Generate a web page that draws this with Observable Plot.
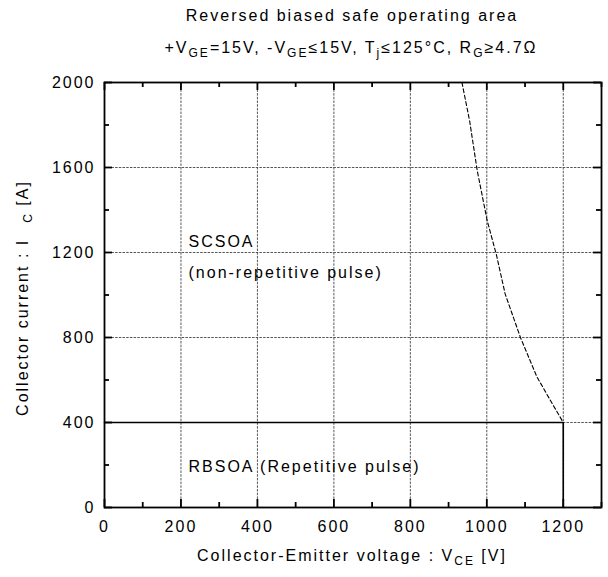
<!DOCTYPE html>
<html><head><meta charset="utf-8">
<script src="https://cdn.jsdelivr.net/npm/d3@7"></script>
<script src="https://cdn.jsdelivr.net/npm/@observablehq/plot@0.6"></script>
<style>body{margin:0;background:#fff}</style>
</head><body><div id="chart"></div>
<script>
// ---- data ----
const xTickValues = [0, 200, 400, 600, 800, 1000, 1200];
const xMinorTicks = [100, 300, 500, 700, 900, 1100, 1300];
const yTickValues = [0, 400, 800, 1200, 1600, 2000];
const yMinorTicks = [200, 600, 1000, 1400, 1800];
const gridX = [200, 400, 600, 800, 1000, 1200];
const gridY = [400, 800, 1200, 1600];

// SCSOA boundary (non-repetitive pulse), dashed
const scsoaV = [935, 955, 975, 1001, 1025, 1048, 1088, 1131, 1166, 1200];
const scsoaI = [2000, 1820, 1585, 1350, 1190, 1005, 800, 615, 505, 400];
// RBSOA boundary (repetitive pulse), solid
const rbsoaV = [0, 1200, 1200];
const rbsoaI = [400, 400, 0];

const labelsText = ["SCSOA", "(non-repetitive pulse)", "RBSOA (Repetitive pulse)"];
const labelsV = [0, 0, 0];
const labelsI = [1252, 1106, 193];

const scsoa = scsoaV.map((v, i) => ({v, i: scsoaI[i]}));
const rbsoa = rbsoaV.map((v, i) => ({v, i: rbsoaI[i]}));
const labels = labelsText.map((t, k) => ({t, v: labelsV[k], i: labelsI[k]}));

// layout
const W = 608, H = 577, mL = 104, mR = 7, mT = 82, mB = 70;
const xDomain = [0, 1300], yDomain = [0, 2000];
const vPerPx = (xDomain[1] - xDomain[0]) / (W - mL - mR);
const iPerPx = (yDomain[1] - yDomain[0]) / (H - mT - mB);

const gridStyle = {stroke: "#444", strokeWidth: 0.9, strokeDasharray: "2.5,1.2"};
const tickStyle = {stroke: "#000", strokeWidth: 1.8};
function mkTicks(values, side, len) {
  if (side === "bottom") return Plot.ruleX(values, {x: d => d, y1: yDomain[0], y2: yDomain[0] + len * iPerPx, ...tickStyle});
  if (side === "top") return Plot.ruleX(values, {x: d => d, y1: yDomain[1], y2: yDomain[1] - len * iPerPx, ...tickStyle});
  if (side === "left") return Plot.ruleY(values, {y: d => d, x1: xDomain[0], x2: xDomain[0] + len * vPerPx, ...tickStyle});
  return Plot.ruleY(values, {y: d => d, x1: xDomain[1], x2: xDomain[1] - len * vPerPx, ...tickStyle});
}
const fmt = d => String(d);

const plot = Plot.plot({
  width: W,
  height: H,
  marginLeft: mL,
  marginRight: mR,
  marginTop: mT,
  marginBottom: mB,
  style: {fontFamily: "'Liberation Sans', Arial, sans-serif", fontSize: "16px", letterSpacing: "2px", color: "#000", background: "#fff"},
  x: {domain: xDomain},
  y: {domain: yDomain},
  marks: [
    Plot.ruleX(gridX, {...gridStyle}),
    Plot.ruleY(gridY, {...gridStyle}),
    Plot.line(scsoa, {x: "v", y: "i", stroke: "#000", strokeWidth: 1.1, strokeDasharray: "4,2.5"}),
    Plot.line(rbsoa, {x: "v", y: "i", stroke: "#000", strokeWidth: 1.6}),
    Plot.text(labels, {x: "v", y: "i", text: "t", textAnchor: "start", dx: 84, fontSize: 16}),
    // inward ticks
    mkTicks(xTickValues, "bottom", 8),
    mkTicks(xMinorTicks, "bottom", 5),
    mkTicks(xTickValues, "top", 8),
    mkTicks(xMinorTicks, "top", 5),
    mkTicks(yTickValues, "left", 8),
    mkTicks(yMinorTicks, "left", 5),
    mkTicks(yTickValues, "right", 8),
    mkTicks(yMinorTicks, "right", 5),
    // tick labels
    Plot.axisX(xTickValues, {anchor: "bottom", tickSize: 0, tickPadding: 13, label: null, fontSize: 16, tickFormat: fmt}),
    Plot.axisY(yTickValues, {anchor: "left", tickSize: 0, tickPadding: 9, label: null, fontSize: 16, tickFormat: fmt}),
    Plot.frame({stroke: "#000", strokeWidth: 1.8})
  ]
});

const svg = d3.select(plot);
const font = "'Liberation Sans', Arial, sans-serif";
function addText(x, y, parts, rotate) {
  const t = svg.append("text")
    .attr("text-anchor", "middle")
    .attr("font-family", font)
    .attr("font-size", 16)
    .attr("letter-spacing", "2px")
    .attr("fill", "#000");
  if (rotate) t.attr("transform", `translate(${x},${y}) rotate(-90)`);
  else t.attr("x", x).attr("y", y);
  let prevSub = false;
  for (const p of parts) {
    const sub = p.sub || false;
    const ts = t.append("tspan").text(p.t);
    if (sub && !prevSub) ts.attr("dy", 4).attr("font-size", 12);
    else if (sub) ts.attr("font-size", 12);
    if (!sub && prevSub) ts.attr("dy", -4);
    if (p.dx) ts.attr("dx", p.dx);
    prevSub = sub;
  }
  return t;
}
addText(352, 21, [{t: "Reversed biased safe operating area"}]);
addText(351, 53, [
  {t: "+V"}, {t: "GE", sub: true}, {t: "=15V, -V"}, {t: "GE", sub: true},
  {t: "≤15V, T"}, {t: "j", sub: true}, {t: "≤125°C, R"}, {t: "G", sub: true}, {t: "≥4.7Ω"}
]);
addText(352, 561, [{t: "Collector-Emitter voltage : V"}, {t: "CE", sub: true}, {t: " [V]"}]);
addText(28, 298, [{t: "Collector current : I"}, {t: "C", sub: true, dx: 16}, {t: " [A]"}], true);

document.getElementById("chart").appendChild(plot);
</script>
</body></html>
